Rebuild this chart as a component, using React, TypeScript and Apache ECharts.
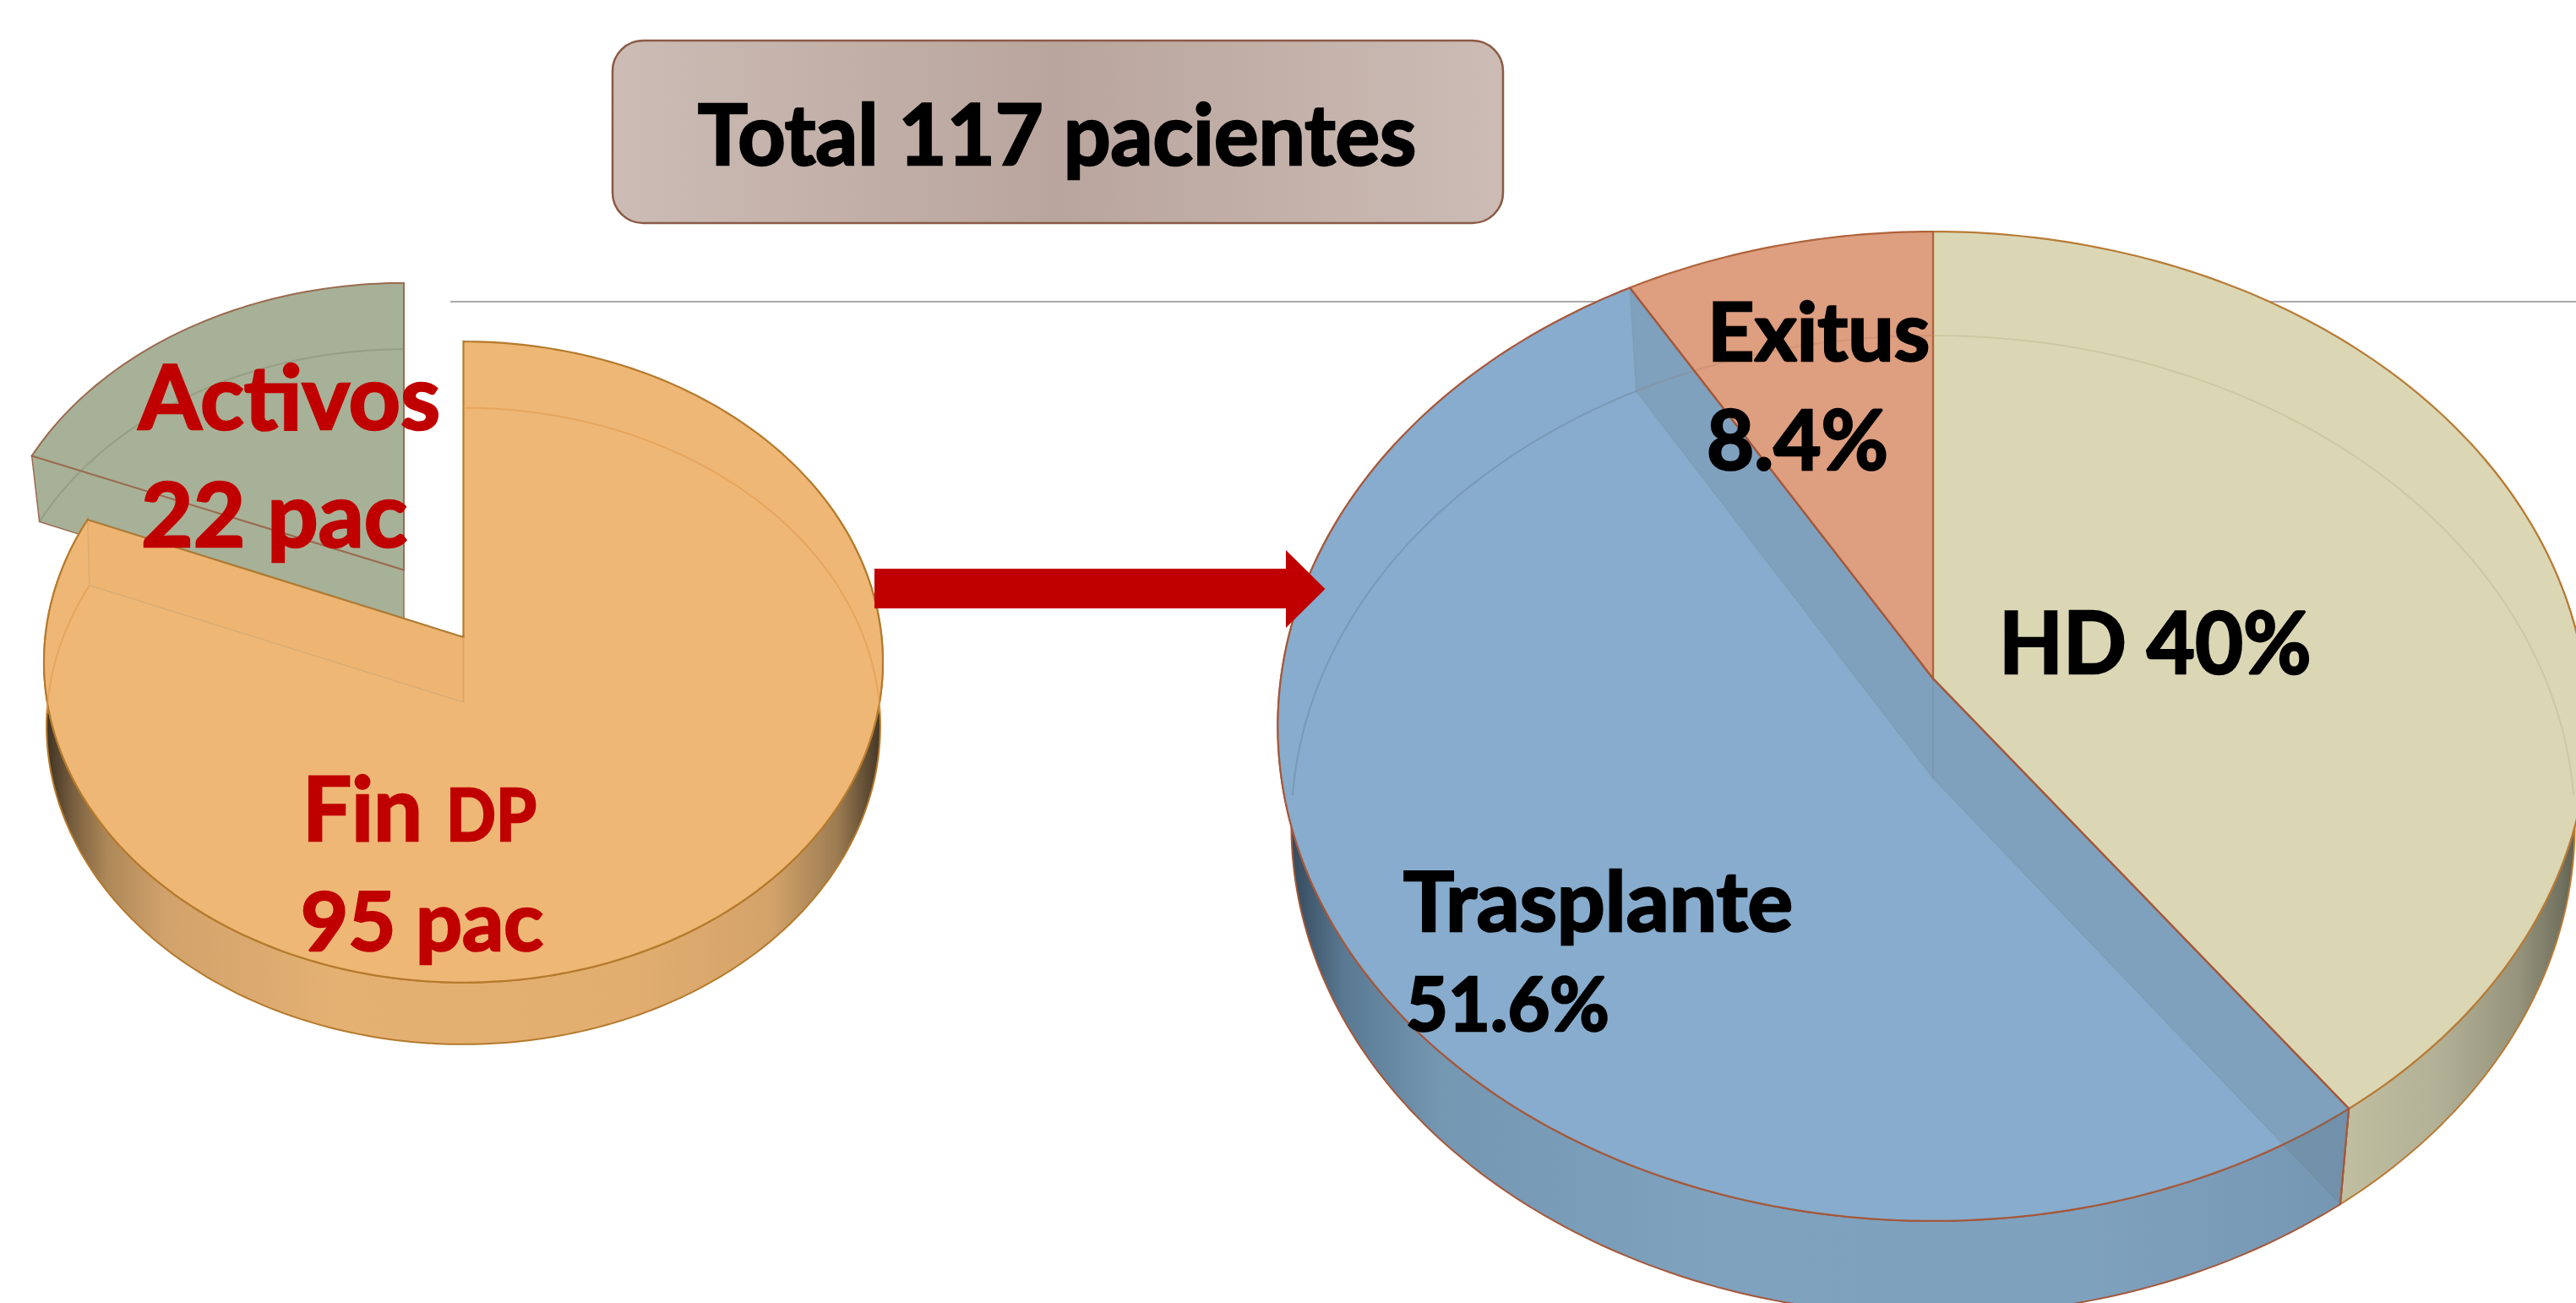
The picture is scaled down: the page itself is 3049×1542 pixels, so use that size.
import React, { useEffect, useRef } from "react";
import * as echarts from "echarts";

// ---------- data ----------
const leftCategories = ["Fin DP", "Activos"];
const leftValues = [95, 22];
const rightCategories = ["HD", "Trasplante", "Exitus"];
const rightValues = [40, 51.6, 8.4];
const totalPatients = 117;

// ---------- projection of the two pies (perspective circles) ----------
type Geo = { cx: number; cy: number; R: number; S: number; k: number };
const rightTop: Geo = { cx: 2288, cy: 803, R: 772, S: 580, k: 0.0965 };
const rightBot: Geo = { cx: 2288, cy: 921, R: 756, S: 574.5, k: 0.0965 };
const leftTop: Geo = { cx: 548.5, cy: 754, R: 495, S: 377, k: 0.0777 };
const leftBot: Geo = { cx: 548.5, cy: 831, R: 492, S: 374.5, k: 0.075 };
const detachedTop: Geo = { cx: 478, cy: 674.5, R: 490, S: 366, k: 0.0777 };
const detachedBot: Geo = { cx: 478, cy: 752, R: 480, S: 365, k: 0.0777 };

const P = (g: Geo, deg: number): number[] => {
  const t = (deg * Math.PI) / 180;
  const w = 1 + g.k * Math.cos(t);
  return [g.cx + (g.R * Math.sin(t)) / w, g.cy - (g.S * Math.cos(t)) / w];
};
const arc = (g: Geo, a: number, b: number): number[][] => {
  const n = Math.max(2, Math.ceil(Math.abs(b - a)));
  const out: number[][] = [];
  for (let i = 0; i <= n; i++) out.push(P(g, a + ((b - a) * i) / n));
  return out;
};
const grad = (x0: number, x1: number, stops: [number, string][]) =>
  new echarts.graphic.LinearGradient(
    x0, 0, x1, 0,
    stops.map(([offset, color]) => ({ offset, color })),
    true
  );

type SliceStyle = {
  top: string; stroke: string; rim: string; wall?: () => any; wallOn: boolean; band?: string;
};

const rightStyles: SliceStyle[] = [
  {
    top: "#DBD7B5", stroke: "#B87B35", rim: "rgba(175,165,120,0.3)", wallOn: true,
    wall: () => grad(2770, 3050, [[0, "#C1BFA1"], [0.4, "#B3B196"], [0.75, "#96947C"], [0.93, "#737361"], [1, "#5E5E50"]]),
  },
  {
    top: "#87ACCD", stroke: "#A5583A", rim: "rgba(85,105,125,0.28)", wallOn: true, band: "rgba(95,120,130,0.2)",
    wall: () => grad(1530, 2780, [[0, "#364B5E"], [0.05, "#5A7A94"], [0.14, "#7497B2"], [0.4, "#7FA2BF"], [0.75, "#7EA1BE"], [1, "#7697B3"]]),
  },
  { top: "#DE9E80", stroke: "#B0633A", rim: "rgba(170,105,75,0.2)", wallOn: false },
];
const leftStyles: SliceStyle[] = [
  {
    top: "#EFB775", stroke: "#B57A2C", rim: "rgba(225,158,85,0.7)", wallOn: true, band: "rgba(225,160,85,0.08)",
    wall: () => grad(58, 1040, [[0, "#443626"], [0.03, "#7A6040"], [0.07, "#AD8858"], [0.14, "#D2A26C"], [0.35, "#E5B173"], [0.7, "#E2AE70"], [0.87, "#D4A36A"], [0.95, "#9C7C52"], [1, "#483A28"]]),
  },
  { top: "#A7B197", stroke: "#9A6B50", rim: "rgba(125,130,105,0.4)", wallOn: false },
];

const clip = (a: number, b: number, lo: number, hi: number): number[] | null => {
  const s = Math.max(a, lo), e = Math.min(b, hi);
  return e > s ? [s, e] : null;
};

const rimLines = (g: Geo, a: number, b: number, color: string) => {
  const out: any[] = [];
  [clip(a, b, 0, 92), clip(a, b, 268, 360)].forEach((r) => {
    if (r) out.push({
      type: "polyline",
      shape: { points: arc(g, r[0], r[1]) },
      style: { stroke: color, fill: "none", lineWidth: 2 },
    });
  });
  return out;
};

const makeLayer = (
  name: string, cats: string[], vals: number[], styles: SliceStyle[],
  top: Geo, bot: Geo, layer: "detached" | "wall" | "top" | "overlay", z: number, detachedIndex: number
) => {
  const total = vals.reduce((s, v) => s + v, 0);
  let c = 0;
  const data = vals.map((v, i) => {
    const item = { name: cats[i], value: [v, c] };
    c += v;
    return item;
  });
  return {
    type: "custom",
    name: `${name}-${layer}`,
    coordinateSystem: "none",
    silent: true,
    z,
    data,
    renderItem: (params: any, api: any) => {
      const i = params.dataIndex;
      const st = styles[i];
      const a = (api.value(1) / total) * 360;
      const b = ((api.value(1) + api.value(0)) / total) * 360;
      const children: any[] = [];
      const isDetached = i === detachedIndex;
      if (layer === "detached") {
        if (!isDetached) return null;
        children.push({
          type: "polygon",
          shape: { points: [P(detachedTop, a), P(detachedBot, a), [detachedBot.cx, detachedBot.cy], [detachedTop.cx, detachedTop.cy]] },
          style: { fill: st.top, stroke: st.stroke, lineWidth: 1.5 },
        });
        children.push({
          type: "polygon",
          shape: { points: [[detachedTop.cx, detachedTop.cy], ...arc(detachedTop, a, b)] },
          style: { fill: st.top, stroke: st.stroke, lineWidth: 2 },
        });
        children.push(...rimLines(detachedBot, a, b, st.rim));
      } else if (isDetached) {
        return null;
      } else if (layer === "wall") {
        const r = st.wallOn ? clip(a, b, 60, 300) : null;
        if (!r) return null;
        children.push({
          type: "polygon",
          shape: { points: [...arc(top, r[0], r[1]), ...arc(bot, r[0], r[1]).reverse()] },
          style: { fill: st.wall!(), stroke: st.stroke, lineWidth: 2 },
        });
      } else if (layer === "top") {
        children.push({
          type: "polygon",
          shape: { points: [[top.cx, top.cy], ...arc(top, a, b)] },
          style: { fill: st.top, stroke: st.stroke, lineWidth: 2.2 },
        });
      } else {
        children.push(...rimLines(bot, a, b, st.rim));
        if (st.band) {
          children.push({
            type: "polygon",
            shape: { points: [[top.cx, top.cy], P(top, b), P(bot, b), [bot.cx, bot.cy]] },
            style: { fill: st.band, stroke: "rgba(110,125,125,0.16)", lineWidth: 1.5 },
          });
          if (name === "right") {
            children.push({
              type: "polygon",
              shape: { points: [[top.cx, top.cy], P(top, a), P(bot, a), [bot.cx, bot.cy]] },
              style: { fill: st.band, stroke: "rgba(110,125,125,0.16)", lineWidth: 1.5 },
            });
            children.push({
              type: "line",
              shape: { x1: P(top, a)[0], y1: P(top, a)[1], x2: P(bot, a)[0], y2: P(bot, a)[1] },
              style: { stroke: st.stroke, lineWidth: 2 },
            });
            children.push({
              type: "polyline",
              shape: { points: [P(top, b), [top.cx, top.cy], P(top, a)] },
              style: { stroke: st.stroke, fill: "none", lineWidth: 2 },
            });
          } else {
            children.push({
              type: "line",
              shape: { x1: top.cx, y1: top.cy, x2: bot.cx, y2: bot.cy },
              style: { stroke: "rgba(225,158,85,0.6)", lineWidth: 2 },
            });
          }
        }
      }
      return { type: "group", children };
    },
  };
};

// ---------- text ----------
const FONT = "Lato";
const RED = "#C00000";
const measure = (txt: string, size: number) => {
  const ctx = document.createElement("canvas").getContext("2d")!;
  ctx.font = `bold ${size}px ${FONT}`;
  return ctx.measureText(txt).width;
};
const label = (txt: string, x0: number, x1: number, baseline: number, size: number, fill: string) => ({
  type: "text",
  z: 20,
  x: x0,
  y: baseline,
  scaleX: (x1 - x0) / measure(txt, size),
  style: {
    text: txt, x: 0, y: -size * 0.36, fontFamily: FONT, fontWeight: "bold", fontSize: size,
    fill, stroke: fill, lineWidth: 2.6, align: "left", verticalAlign: "middle",
  },
});

export default function App() {
  const ref = useRef<HTMLDivElement>(null);
  useEffect(() => {
    document.body.style.margin = "0";
    const chart = echarts.init(ref.current!, undefined, { renderer: "svg" });
    const series: any[] = [];
    series.push(makeLayer("left", leftCategories, leftValues, leftStyles, leftTop, leftBot, "detached", 2, 1));
    (["wall", "top", "overlay"] as const).forEach((l, idx) => {
      series.push(makeLayer("left", leftCategories, leftValues, leftStyles, leftTop, leftBot, l, 3 + idx, 1));
      series.push(makeLayer("right", rightCategories, rightValues, rightStyles, rightTop, rightBot, l, 3 + idx, -1));
    });
    chart.setOption({
      animation: false,
      backgroundColor: "#FFFFFF",
      series,
      graphic: {
        elements: [
          { type: "line", z: 1, shape: { x1: 533, y1: 357, x2: 3049, y2: 357 }, style: { stroke: "#8E8E8E", lineWidth: 1.6 } },
          {
            type: "rect", z: 1,
            shape: { x: 725, y: 48, width: 1054, height: 216, r: 36 },
            style: {
              fill: {
                type: "linear", x: 0, y: 0, x2: 1, y2: 0,
                colorStops: [
                  { offset: 0, color: "#CCBCB5" },
                  { offset: 0.5, color: "#B9A59D" },
                  { offset: 1, color: "#CCBCB5" },
                ],
              },
              stroke: "#8B5A45", lineWidth: 2.5,
            },
          },
          {
            type: "polygon", z: 10,
            shape: { points: [[1035, 673], [1522, 673], [1522, 651], [1568.5, 697], [1522, 743], [1522, 720], [1035, 720]] },
            style: { fill: RED },
          },
          label(`Total ${totalPatients} pacientes`, 826, 1676, 192, 100, "#000000"),
          label(leftCategories[1], 164, 521, 505, 106, RED),
          label(`${leftValues[1]} pac`, 167, 482, 644, 106, RED),
          label(leftCategories[0].split(" ")[0], 358, 500, 992, 106, RED),
          label(leftCategories[0].split(" ")[1], 528, 635, 992, 86, RED),
          label(`${leftValues[0]} pac`, 356, 643, 1123, 96, RED),
          label(rightCategories[2], 2021, 2284, 424, 96, "#000000"),
          label(`${rightValues[2]}%`, 2020, 2235, 554, 98, "#000000"),
          label(`${rightCategories[0]} ${rightValues[0]}%`, 2366, 2736, 794, 102, "#000000"),
          label(rightCategories[1], 1661, 2122, 1099, 98, "#000000"),
          label(`${rightValues[1]}%`, 1664, 1905, 1218, 88, "#000000"),
        ],
      },
    });
    return () => chart.dispose();
  }, []);
  return <div ref={ref} style={{ position: "fixed", left: 0, top: 0, width: 3049, height: 1542 }} />;
}
